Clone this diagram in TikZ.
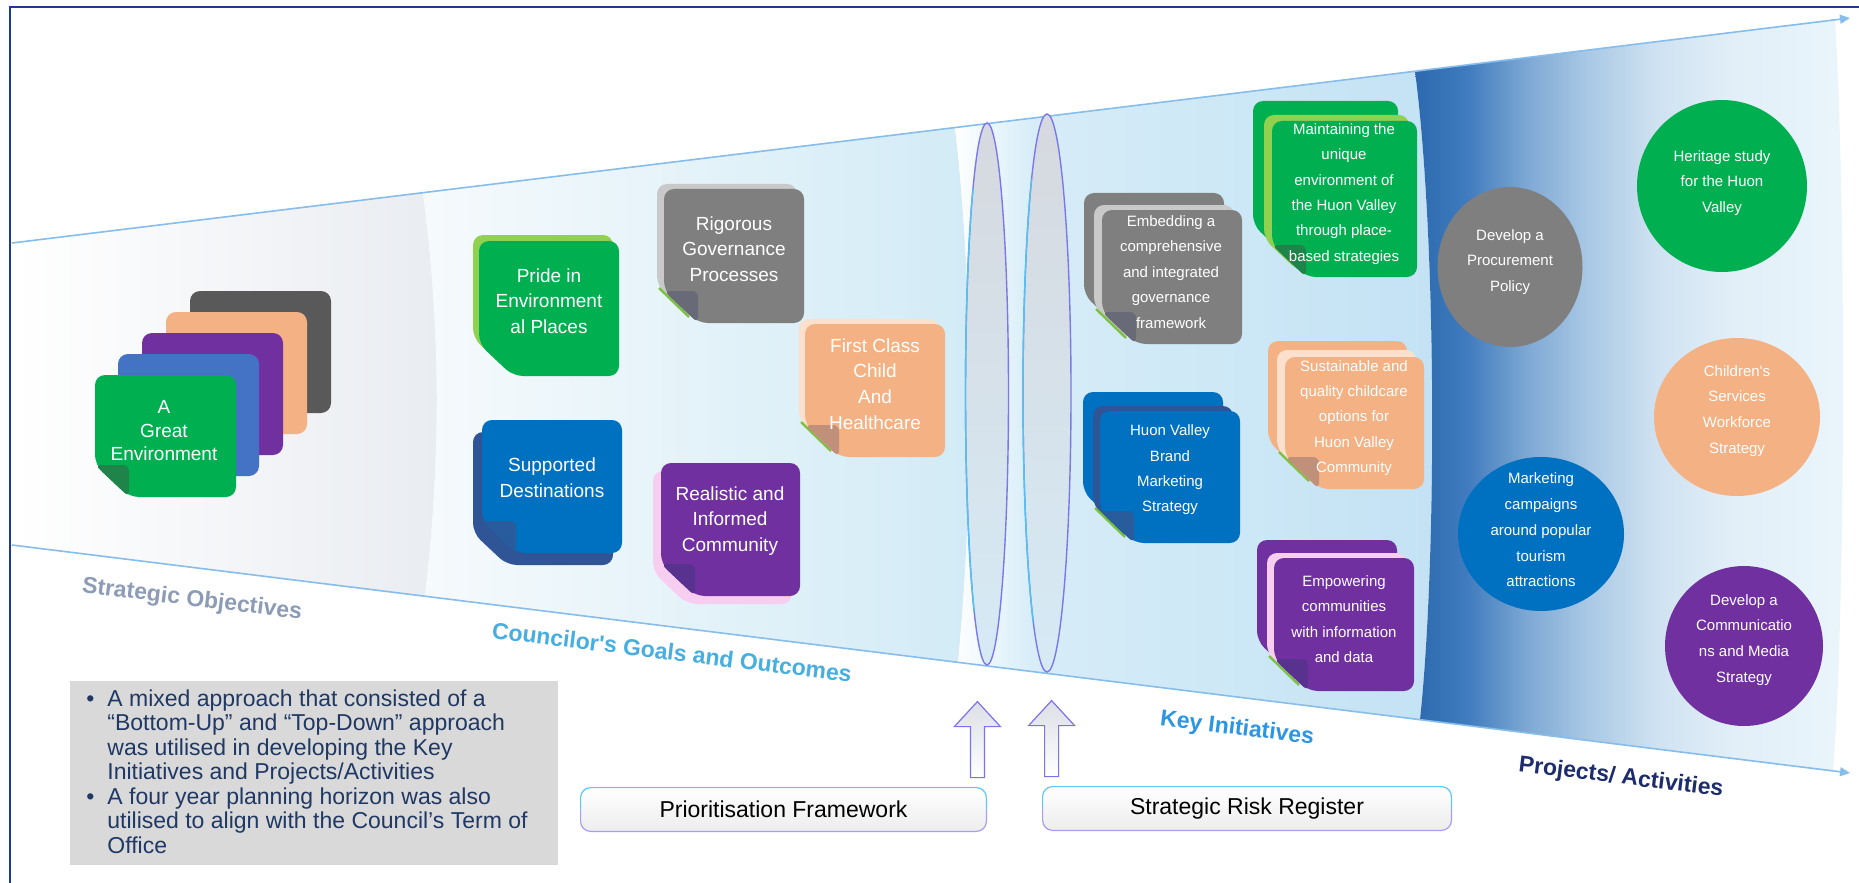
\documentclass[tikz,border=0pt]{standalone}
\usepackage{fontspec}
\setmainfont{Liberation Sans}
\newfontfamily\plainsans[Ligatures=TeXOff]{Liberation Sans}
\usetikzlibrary{calc,arrows.meta,shapes.geometric}

% palette
\definecolor{frameblue}{HTML}{1F3A8F}
\definecolor{edgeblue}{HTML}{86BDEB}
\definecolor{cgreen}{HTML}{00B050}
\definecolor{clgreen}{HTML}{92D050}
\definecolor{cgray}{HTML}{7F7F7F}
\definecolor{clgray}{HTML}{C9C9C9}
\definecolor{cdgray}{HTML}{595959}
\definecolor{cpeach}{HTML}{F4B183}
\definecolor{clpeach}{HTML}{FBE0CD}
\definecolor{cpurple}{HTML}{7030A0}
\definecolor{cpink}{HTML}{F7CDF0}
\definecolor{cblue}{HTML}{0070C0}
\definecolor{cdblue}{HTML}{2F5597}
\definecolor{cmblue}{HTML}{4472C4}
\definecolor{fgreen}{HTML}{1E8449}
\definecolor{fgray}{HTML}{686B77}
\definecolor{fpeach}{HTML}{C0907A}
\definecolor{fpurple}{HTML}{59318F}
\definecolor{fblue}{HTML}{285C9C}
\definecolor{snipgreen}{HTML}{7CC242}
\definecolor{soA}{HTML}{E9ECF1}
\definecolor{cgA}{HTML}{F6FAFC}
\definecolor{cgB}{HTML}{D2EBF6}
\definecolor{kiW}{HTML}{F4FAFD}
\definecolor{kiA}{HTML}{D7EDF8}
\definecolor{kiB}{HTML}{C3E2F4}
\definecolor{pj0}{HTML}{2C69AE}
\definecolor{pj1}{HTML}{3F7BBE}
\definecolor{pj2}{HTML}{7EA8D4}
\definecolor{pj3}{HTML}{A9C8E5}
\definecolor{pj4}{HTML}{CFE2F1}
\definecolor{pj5}{HTML}{E2EFF8}
\definecolor{pj6}{HTML}{EAF5FB}
\definecolor{lenstop}{HTML}{D6D9DF}
\definecolor{lensbot}{HTML}{D6EAF5}
\definecolor{lensviolet}{HTML}{7B78EE}
\definecolor{lenscyan}{HTML}{4FC3F2}
\definecolor{arrtop}{HTML}{DCDFE6}
\definecolor{arrline}{HTML}{7B72EE}
\definecolor{boxbot}{HTML}{EDEDED}
\definecolor{boxcyan}{HTML}{5EC8F4}
\definecolor{boxviolet}{HTML}{A59DF5}
\definecolor{notegray}{HTML}{D9D9D9}
\definecolor{notenavy}{HTML}{1F3864}
\definecolor{solbl}{HTML}{8C9CB6}
\definecolor{cglbl}{HTML}{47AEE0}
\definecolor{kilbl}{HTML}{2D96E4}
\definecolor{palbl}{HTML}{1C2C6C}

% band shadings (inner 25bp--75bp spans the filled area)
\pgfdeclarehorizontalshading{keysh}{100bp}{color(0bp)=(white); color(25bp)=(white); color(27bp)=(kiW); color(33bp)=(kiA); color(75bp)=(kiB); color(100bp)=(kiB)}
\pgfdeclarehorizontalshading{projsh}{100bp}{color(0bp)=(pj0); color(25bp)=(pj0); color(31bp)=(pj1); color(38bp)=(pj2); color(45bp)=(pj3); color(53bp)=(pj4); color(62bp)=(pj5); color(75bp)=(pj6); color(100bp)=(pj6)}

% plain rounded card: x y w h colour
\newcommand\plaincard[5]{\fill[#5, rounded corners=5pt] (#1,#2) rectangle ++(#3,#4);}
% card with snipped lower-left corner: x y w h colour
\newcommand\snipcard[5]{\fill[#5, rounded corners=5pt] (#1,{#2+#4-32}) -- (#1,#2) -- ({#1+#3},#2) -- ({#1+#3},{#2+#4}) -- ({#1+34},{#2+#4}) -- cycle;}
% green edge along the snip of a rear card: x y h
\newcommand\snipedge[3]{\draw[snipgreen, line width=1.2pt] ({#1+2},{#2+#3-30}) -- ({#1+32},{#2+#3-1});}
% curled corner on a snipped card: x y h colour
\newcommand\foldcorner[4]{\fill[#4, rounded corners=3pt] (#1,{#2+#3-32}) -- ({#1+34},{#2+#3-32}) -- ({#1+34},{#2+#3}) -- cycle;}

\begin{document}
\begin{tikzpicture}[x=0.5pt, y=-0.5pt,
  lbl/.style={font=\plainsans\fontsize{11.5}{13}\selectfont\bfseries, rotate=-7, inner sep=0},
  goaltxt/.style={text=white, align=center, inner sep=0, font=\fontsize{9.5}{12.8}\selectfont},
  keytxt/.style={text=white, align=center, inner sep=0, font=\fontsize{7.5}{12.7}\selectfont},
  projtxt/.style={text=white, align=center, inner sep=0, font=\plainsans\fontsize{7.5}{12.9}\selectfont},
  blob/.style={ellipse, inner sep=0, draw=none},
  funnelline/.style={draw=edgeblue, line width=0.8pt, -{Triangle[length=5pt,width=4.5pt]}},
  basebox/.style={rounded corners=5pt, top color=white, bottom color=boxbot, inner sep=0, font=\fontsize{11.5}{13}\selectfont, text=black},
  upar/.style={top color=arrtop, bottom color=white, draw=arrline, line width=0.6pt, line join=miter},
  lensfill/.style={top color=lenstop, bottom color=lensbot},
  lensline/.style={draw=lensviolet, line width=0.7pt},
  lensedge/.style={draw=lenscyan, line width=0.7pt}
]
\useasboundingbox (0,0) rectangle (1859,883);
\fill[white] (0,0) rectangle (1859,883);

% ---------- funnel bands ----------
\coordinate (tl) at (12,243);
\coordinate (bl) at (12,545);
\coordinate (tr) at (1850,18);
\coordinate (br) at (1850,773);

\shade[left color=white, right color=soA]
  (tl) -- (423,192.7) .. controls (441,330) and (441,460) .. (425,596.2) -- (bl) -- cycle;
\shade[left color=cgA, right color=cgB]
  (423,192.7) .. controls (441,330) and (441,460) .. (425,596.2) -- (958,662.3)
  .. controls (974,500) and (974,290) .. (955,127.6) -- cycle;
\shade[shading=keysh]
  (955,127.6) .. controls (974,290) and (974,500) .. (958,662.3) -- (1420,719.6)
  .. controls (1437,560) and (1437,240) .. (1415,71.3) -- cycle;
\shade[shading=projsh]
  (1415,71.3) .. controls (1437,240) and (1437,560) .. (1420,719.6) -- (1833,771)
  .. controls (1846,600) and (1846,200) .. (1835,20) -- cycle;

\draw[funnelline] (tl) -- (tr);
\draw[funnelline] (bl) -- (br);

% ---------- lenses ----------
\shade[lensfill] (987,394) ellipse [x radius=21.5, y radius=271];
\draw[lensline] (987,394) ellipse [x radius=21.5, y radius=271];
\begin{scope}
  \clip (960,190) rectangle (982,610);
  \draw[lensedge] (987,394) ellipse [x radius=21.5, y radius=271];
\end{scope}
\shade[lensfill] (1047,393) ellipse [x radius=24, y radius=279];
\draw[lensline] (1047,393) ellipse [x radius=24, y radius=279];
\begin{scope}
  \clip (1018,180) rectangle (1041,620);
  \draw[lensedge] (1047,393) ellipse [x radius=24, y radius=279];
\end{scope}

% ---------- strategic objective stack ----------
\plaincard{190}{291}{141}{122}{cdgray}
\plaincard{166}{312}{141}{122}{cpeach}
\plaincard{142}{333}{141}{122}{cpurple}
\plaincard{118}{354}{141}{122}{cmblue}
\snipcard{95}{375}{141}{122}{cgreen}
\foldcorner{95}{375}{122}{fgreen}
\node[goaltxt, font=\fontsize{9.5}{11.75}\selectfont] (so) at (164,431) {A\\Great\\Environment};

% ---------- councillor goals ----------
\snipcard{473}{235}{140}{135}{clgreen}
\snipcard{479}{241}{140}{135}{cgreen}
\node[goaltxt] (g1) at (549,301) {Pride in\\Environment\\al Places};

\snipcard{657}{184}{140}{134}{clgray}
\snipedge{657}{184}{134}
\snipcard{664}{189}{140}{134}{cgray}
\foldcorner{664}{189}{134}{fgray}
\node[goaltxt] (g2) at (734,249) {Rigorous\\Governance\\Processes};

\snipcard{799}{319}{140}{133}{clpeach}
\snipedge{799}{319}{133}
\snipcard{805}{324}{140}{133}{cpeach}
\foldcorner{805}{324}{133}{fpeach}
\node[goaltxt] (g3) at (875,384) {First Class\\Child\\And\\Healthcare};

\snipcard{473}{432}{140}{133}{cdblue}
\snipcard{482}{420}{140}{133}{cblue}
\foldcorner{482}{420}{133}{fblue}
\node[goaltxt] (g4) at (552,478) {Supported\\Destinations};

\snipcard{653}{471}{139}{133}{cpink}
\snipcard{661}{463}{139}{133}{cpurple}
\foldcorner{661}{463}{133}{fpurple}
\node[goaltxt] (g5) at (730,521) {Realistic and\\Informed\\Community};

% ---------- key initiatives ----------
\snipcard{1084}{193}{140}{134}{cgray}
\snipcard{1094}{205}{140}{134}{clgray}
\snipedge{1094}{205}{134}
\snipcard{1102}{210}{140}{134}{cgray}
\foldcorner{1102}{210}{134}{fgray}
\node[keytxt] (k1) at (1171,272) {Embedding a\\comprehensive\\and integrated\\governance\\framework};

\snipcard{1083}{392}{140}{132}{cblue}
\snipcard{1093}{406}{140}{132}{cdblue}
\snipedge{1093}{406}{132}
\snipcard{1100}{411}{140}{132}{cblue}
\foldcorner{1100}{411}{132}{fblue}
\node[keytxt] (k2) at (1170,470) {Huon Valley\\Brand\\Marketing\\Strategy};

\snipcard{1253}{101}{145}{156}{cgreen}
\snipcard{1264}{115}{145}{156}{clgreen}
\snipcard{1272}{121}{145}{156}{cgreen}
\foldcorner{1272}{121}{156}{fgreen}
\node[keytxt] (k3) at (1344,194) {Maintaining the\\unique\\environment of\\the Huon Valley\\through place-\\based strategies};

\snipcard{1268}{341}{139}{132}{cpeach}
\snipcard{1277}{350}{139}{132}{clpeach}
\snipedge{1277}{350}{132}
\snipcard{1285}{357}{139}{132}{cpeach}
\foldcorner{1285}{357}{132}{fpeach}
\node[keytxt] (k4) at (1354,418) {Sustainable and\\quality childcare\\options for\\Huon Valley\\Community};

\snipcard{1257}{540}{140}{133}{cpurple}
\snipcard{1267}{553}{140}{133}{cpink}
\snipedge{1267}{553}{133}
\snipcard{1274}{558}{140}{133}{cpurple}
\foldcorner{1274}{558}{133}{fpurple}
\node[keytxt] (k5) at (1344,619) {Empowering\\communities\\with information\\and data};

% ---------- projects / activities ----------
\node[blob, fill=cgray, minimum width=72.5pt, minimum height=80pt] (p1) at (1510,267) {};
\node[projtxt] (p1t) at (1510,262) {Develop a\\Procurement\\Policy};
\node[blob, fill=cgreen, minimum width=85pt, minimum height=86pt] (p2) at (1722,186) {};
\node[projtxt] (p2t) at (1722,183) {Heritage study\\for the Huon\\Valley};
\node[blob, fill=cpeach, minimum width=83pt, minimum height=79pt] (p3) at (1737,417) {};
\node[projtxt] (p3t) at (1737,411) {Children's\\Services\\Workforce\\Strategy};
\node[blob, fill=cblue, minimum width=83pt, minimum height=77pt] (p4) at (1541,534) {};
\node[projtxt] (p4t) at (1541,530) {Marketing\\campaigns\\around popular\\tourism\\attractions};
\node[blob, fill=cpurple, minimum width=79pt, minimum height=80pt] (p5) at (1744,646) {};
\node[projtxt] (p5t) at (1744,640) {Develop a\\Communicatio\\ns and Media\\Strategy};

% ---------- stage labels ----------
\node[lbl, text=solbl] (l1) at (192,600) {Strategic Objectives};
\node[lbl, text=cglbl] (l2) at (672,652) {Councilor's Goals and Outcomes};
\node[lbl, text=kilbl] (l3) at (1237,729) {Key Initiatives};
\node[lbl, text=palbl] (l4) at (1621,778) {Projects/ Activities};

% ---------- inputs ----------
\node[basebox, minimum width=202.5pt, minimum height=21.5pt] (pf) at (783.5,809.5) {Prioritisation Framework};
\draw[boxcyan, line width=0.6pt, rounded corners=5pt] (pf.west) |- (pf.north) -| (pf.east);
\draw[boxviolet, line width=0.6pt, rounded corners=5pt] (pf.west) |- (pf.south) -| (pf.east);
\node[basebox, minimum width=204pt, minimum height=21.5pt] (srr) at (1247,808.5) {Strategic Risk Register};
\draw[boxcyan, line width=0.6pt, rounded corners=5pt] (srr.west) |- (srr.north) -| (srr.east);
\draw[boxviolet, line width=0.6pt, rounded corners=5pt] (srr.west) |- (srr.south) -| (srr.east);

\coordinate (ua) at ($(pf.north east)+(-9,-10)$);
\coordinate (ub) at ($(srr.north west)+(9,-10)$);
\shadedraw[upar] (ua) ++(-7,0) -- ++(0,-51) -- ++(-16,0) -- ++(23,-25) -- ++(23,25) -- ++(-16,0) -- ++(0,51) -- cycle;
\shadedraw[upar] (ub) ++(-7,0) -- ++(0,-51) -- ++(-16,0) -- ++(23,-25) -- ++(23,25) -- ++(-16,0) -- ++(0,51) -- cycle;

% ---------- note ----------
\node[fill=notegray, anchor=north west, minimum width=244pt, minimum height=92pt, inner sep=0] (note) at (70,681) {};
\node[anchor=north west, align=left, inner sep=0, text=notenavy, font=\fontsize{11.5}{12.25}\selectfont] (notetxt) at (86,689) {%
\makebox[10.5pt][l]{•}A mixed approach that consisted of a\\
\makebox[10.5pt][l]{}“Bottom-Up” and “Top-Down” approach\\
\makebox[10.5pt][l]{}was utilised in developing the Key\\
\makebox[10.5pt][l]{}Initiatives and Projects/Activities\\
\makebox[10.5pt][l]{•}A four year planning horizon was also\\
\makebox[10.5pt][l]{}utilised to align with the Council’s Term of\\
\makebox[10.5pt][l]{}Office};

% ---------- frame ----------
\draw[frameblue, line width=1pt] (9.5,883) -- (9.5,7) -- (1859,7);
\end{tikzpicture}
\end{document}
